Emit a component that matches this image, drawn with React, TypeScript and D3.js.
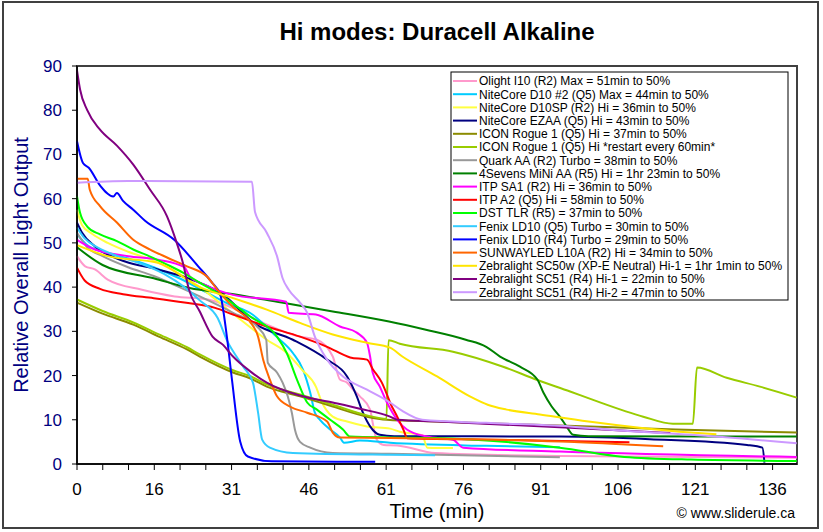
import React from "react";
import * as d3 from "d3";

type Pt = [number, number];

// time (min), relative light output
const olightI10: Pt[] = [[0,47],[1.6,44.7],[3.5,44],[6,41.7],[12.7,39.4],[19.1,37.9],[25.6,37.2],[30,35.5],[36.2,32],[43.6,28.8],[46.9,28.1],[50,24.3],[51.4,19.1],[52.8,18.4],[54,16.8],[55.3,15.3],[57.3,12.3],[57.8,9.4],[58.6,5.5],[60,4.3],[62.6,4.2],[70,2.5],[94.4,1.8],[140.7,1.4]];
const niteCoreD10: Pt[] = [[0,52],[2,49.5],[5,48],[10,46.5],[15,44.5],[20,42],[25,39],[30,36],[33.8,34.2],[39,28.8],[42.2,25.1],[44.2,21.3],[45.6,16.1],[46.5,11.6],[47.5,10],[49.5,7.8],[51.4,6],[52.2,4.8],[55.3,5.3],[61.2,4.8],[80,4.1],[94.4,3.8]];
const niteCoreD10SP: Pt[] = [[0,57.5],[1,54],[3,52],[6,50],[10,48],[15,46],[20,43],[24,40],[30.5,34],[37.1,28.1],[41,25.1],[44,21.3],[46.7,17.5],[47.9,13.9],[48.7,12.3],[50,10.7],[52.8,9.6],[56.7,8.5],[61.2,8],[63.1,7.3],[67.5,6.5],[68.5,3.7],[73.5,3.6]];
const niteCoreEZAA: Pt[] = [[0,54.6],[1,52.3],[3.5,49.2],[9.4,45.8],[15.8,44],[22.4,41.7],[28.7,38.2],[34.4,32],[42.2,28.1],[48.9,23.6],[52.8,19.8],[54.7,15.3],[55.9,11.6],[57.3,8.5],[59.2,6.6],[62,6.3],[94.4,6.2],[112,5.6],[131,4.3],[134,3.7],[134.4,0.3]];
const iconRogue: Pt[] = [[0,36.5],[5,34],[11,31.5],[16,28.8],[21.5,25.9],[24,24.3],[30.5,20.7],[33.8,19.4],[37.1,17.5],[43.6,15.3],[50,13],[56.7,10.7],[60.6,10],[70,9.6],[94.4,8.7],[117,7.8],[140.7,7.1]];
const iconRogueRestart: Pt[] = [[0,37.2],[5,34.6],[11,32],[16,29.3],[21.5,26.4],[24,24.8],[30.5,21.2],[33.8,19.9],[37.1,18],[43.6,15.7],[50,13.4],[56.7,11],[60.5,10.2],[60.9,28],[63.1,27.2],[73.5,25.4],[83.3,22],[90,19],[96.4,16.4],[100.9,14.5],[110.7,10.7],[116.5,9.1],[120.4,9.1],[121.2,21.8],[127,19.5],[133.5,17.5],[140.7,15]];
const quarkAA: Pt[] = [[0,52.3],[2,49],[5,47],[10,44.5],[15,42.5],[20,40],[24,37.9],[30.5,34.2],[35.2,31.1],[37,28.1],[37.3,22.9],[39.1,20.7],[40.2,18.4],[41.2,15.3],[42,11.6],[42.6,7.8],[43.6,5],[45.6,3.7],[50,2.5],[61.2,2.3],[94.4,1.5]];
const fourSevensMiNi: Pt[] = [[0,49],[5,45],[15,42],[22,39.8],[30,38.5],[40,36.5],[50,34.5],[61,32.2],[68,30.4],[76,28.1],[80,26.5],[82.7,24.3],[86.6,22],[90,19.1],[91.2,16.1],[92.8,13],[94.4,10.7],[95.7,8.5],[97,6.6],[100,6.3],[140.7,6.2]];
const itpSA1: Pt[] = [[0,50.7],[3.5,48.5],[10,47],[15.8,46.2],[21,44.5],[22,42.5],[25,40.5],[30.3,38.3],[40.9,36.7],[41.4,34.2],[46.7,33.8],[51.4,31.1],[54.7,29.7],[56.7,27.4],[57.3,24.3],[57.8,20.7],[59.2,17.5],[60.6,13.9],[62.6,10],[64.5,7.8],[68.4,6.2],[73.5,5.5],[75.5,3.7],[94.4,2.8],[140.7,1.6]];
const itpA2: Pt[] = [[0,44.4],[1.5,41.5],[4.5,39.6],[9,38.4],[15,37.5],[21,36.5],[27,35.3],[30.5,33.8],[37.1,31.1],[43.6,28.8],[48.9,26.5],[53.4,24.1],[56.7,23.6],[57.8,21.5],[59.6,18.4],[60.6,15.7],[61.2,13.9],[62.6,10.7],[63.8,7.8],[64.6,5.8],[80,5.5],[100,5.1],[108,4.9]];
const dstTLR: Pt[] = [[0,60.5],[0.6,56.8],[2,53.7],[4.5,51.9],[7.8,50.4],[11,48.5],[14.3,46.9],[17.6,45.1],[20.7,43.3],[24,41],[28,38.3],[33.8,33.4],[39.1,28.8],[41,25.1],[43,19.1],[45,13.9],[46.9,12.3],[49.5,10],[52,7.8],[53.4,6.2],[61,6],[70,5.9],[94.4,3.7],[107,1.6],[120,1],[140.7,0.7]];
const fenixLD10Q5: Pt[] = [[0,53.5],[1.5,51],[4,49],[8,47],[12,45.5],[17,43],[21,40],[24,37],[27.5,33],[29.3,28],[32.5,22],[34.4,18.4],[35.4,11.6],[36.2,5.5],[37.7,3.7],[42.2,2.5],[61,2.1],[70,2]];
const fenixLD10R4: Pt[] = [[0,73],[1.2,68],[2.3,67],[4.5,63],[7.1,60.5],[7.8,61.3],[9,59.5],[11,57.5],[13.3,55],[19,50.7],[23.7,44.7],[26.4,41],[28,38.3],[29.3,28.8],[30.3,19],[31.9,5.1],[33.4,1.7],[38.1,0.6],[58.3,0.5]];
const sunwayledL10A: Pt[] = [[0,64.5],[2.1,64.5],[2.5,62],[4.5,58.3],[7.8,54.6],[11,50.7],[14.3,48.5],[17.6,46.7],[21.5,44.7],[25.4,42.4],[27.4,39.5],[30.5,35.5],[33.8,32.2],[35.4,28.8],[36.4,23.6],[37.7,19.1],[39.1,15.3],[41.6,13],[45,11.6],[48.9,9.6],[50,7.1],[51.4,6],[61.2,5.9],[94.4,5.1],[114.6,4]];
const zebraSC50w: Pt[] = [[0,49.5],[6,47],[15.8,45.5],[24,40],[30.5,37.5],[37.1,34.9],[43.6,31.9],[50,29.3],[56.7,27.4],[61.2,26.3],[63.6,24.3],[70.4,19.8],[76.8,15.3],[80.3,13.4],[84,12.3],[90.5,11.2],[100,9.6],[110,8.2],[120,7.1],[125,6.7]];
const zebraSC51Hi1: Pt[] = [[0,89],[0.6,84.7],[2,80],[4.5,75.6],[7.8,72],[11,67.7],[14.3,62],[17.6,56],[19.5,50],[20.7,45.5],[21.9,39.4],[24,34.5],[26.5,28.8],[28.5,27],[30.5,24.3],[33.8,21],[37.1,18.4],[43.6,15.5],[50,13.9],[55.3,12.5],[61.2,10.7],[62.6,10],[70.4,9.6],[96.4,8.2],[116,7]];
const zebraSC51Hi2: Pt[] = [[0,63.6],[10,64],[34.2,63.8],[34.8,57],[37.1,52.3],[39.1,47],[40.2,42],[41.4,39.4],[43.6,36.5],[45,34.2],[46.5,28.8],[48.9,23.6],[52,19.8],[56.7,16.8],[61.2,13.9],[63.6,12],[67.5,10],[80,9.3],[96.4,8.5],[107,7.5],[120,6.6],[140.7,4.7]];

const seriesNames = [
  "Olight I10 (R2) Max = 51min to 50%",
  "NiteCore D10 #2 (Q5) Max = 44min to 50%",
  "NiteCore D10SP (R2) Hi = 36min to 50%",
  "NiteCore EZAA (Q5) Hi = 43min to 50%",
  "ICON Rogue 1 (Q5) Hi = 37min to 50%",
  "ICON Rogue 1 (Q5) Hi *restart every 60min*",
  "Quark AA (R2) Turbo = 38min to 50%",
  "4Sevens MiNi AA (R5) Hi = 1hr 23min to 50%",
  "ITP SA1 (R2) Hi = 36min to 50%",
  "ITP A2 (Q5) Hi = 58min to 50%",
  "DST TLR (R5) = 37min to 50%",
  "Fenix LD10 (Q5) Turbo = 30min to 50%",
  "Fenix LD10 (R4) Turbo = 29min to 50%",
  "SUNWAYLED L10A (R2) Hi = 34min to 50%",
  "Zebralight SC50w (XP-E Neutral) Hi-1 = 1hr 1min to 50%",
  "Zebralight SC51 (R4) Hi-1 = 22min to 50%",
  "Zebralight SC51 (R4) Hi-2 = 47min to 50%",
];
const seriesData = [olightI10, niteCoreD10, niteCoreD10SP, niteCoreEZAA, iconRogue, iconRogueRestart, quarkAA, fourSevensMiNi, itpSA1, itpA2, dstTLR, fenixLD10Q5, fenixLD10R4, sunwayledL10A, zebraSC50w, zebraSC51Hi1, zebraSC51Hi2];
const seriesColors = ["#FF99CC", "#00CCFF", "#FFFF40", "#000080", "#8B8B00", "#99CC00", "#999999", "#008000", "#FF00FF", "#FF0000", "#00FF00", "#33CCFF", "#0000FF", "#FF6600", "#FFE500", "#800080", "#CC99FF"];

const yTicks = [0, 10, 20, 30, 40, 50, 60, 70, 80, 90];
const xTickLabels = ["0", "16", "31", "46", "61", "76", "91", "106", "121", "136"];
const minutesPerLabel = 15.11;
const xMaxMinutes = 140.76;

const FONT = "'Liberation Sans', Arial, Helvetica, sans-serif";

export default function App() {
  const W = 823, H = 532;
  const L = 77, R = 797, T = 66, B = 464;
  const x = d3.scaleLinear().domain([0, xMaxMinutes]).range([L, R]);
  const y = d3.scaleLinear().domain([0, 90]).range([B, T]);
  const line = d3.line<Pt>().x(d => x(d[0])).y(d => y(d[1])).curve(d3.curveMonotoneX);
  const minor = d3.range(0, xTickLabels.length * 3).map(i => (i * minutesPerLabel) / 3).filter(v => v <= xMaxMinutes);

  const legX = 451, legY = 72, legW = 337, legH = 228, legStart = 81, legStep = 13.2;

  return (
    <svg width={W} height={H} style={{ position: "absolute", left: 0, top: 0, background: "#fff" }} fontFamily={FONT}>
      <rect x={0} y={0} width={W} height={H} fill="#fff" />
      <rect x={3} y={2} width={815} height={526} fill="#fff" stroke="#404040" strokeWidth={2} />
      <text x={(L + R) / 2} y={40} textAnchor="middle" fontSize={24} fontWeight="bold" fill="#000">Hi modes: Duracell Alkaline</text>

      <rect x={L} y={T} width={R - L} height={B - T} fill="#fff" stroke="#404040" strokeWidth={2} />
      <g>
        {seriesData.map((d, i) => (
          <path key={i} d={line(d) || ""} fill="none" stroke={seriesColors[i]} strokeWidth={2} strokeLinejoin="round" />
        ))}
      </g>

      {/* axes */}
      <line x1={L} x2={L} y1={T} y2={B} stroke="#000" strokeWidth={1.5} />
      <line x1={L} x2={R} y1={B} y2={B} stroke="#000" strokeWidth={1.5} />
      {yTicks.map(t => (
        <g key={t}>
          <line x1={L - 5} x2={L} y1={y(t)} y2={y(t)} stroke="#000" strokeWidth={1} />
          <text x={62} y={y(t)} dy="0.35em" textAnchor="end" fontSize={17} fill="#000080">{t}</text>
        </g>
      ))}
      {minor.map((m, i) => (
        <line key={i} x1={x(m)} x2={x(m)} y1={B} y2={B + 6} stroke="#000" strokeWidth={1} />
      ))}
      {xTickLabels.map((lab, i) => (
        <text key={lab} x={x(i * minutesPerLabel)} y={495} textAnchor="middle" fontSize={17} fill="#000">{lab}</text>
      ))}
      <text x={(L + R) / 2} y={518} textAnchor="middle" fontSize={20} fill="#000">Time (min)</text>
      <text transform={`translate(28,${(T + B) / 2}) rotate(-90)`} textAnchor="middle" fontSize={20} fill="#000080">Relative Overall Light Output</text>
      <text x={795} y={518} textAnchor="end" fontSize={14} fill="#000">© www.sliderule.ca</text>

      {/* legend */}
      <rect x={legX} y={legY} width={legW} height={legH} fill="#fff" stroke="#000" strokeWidth={1} />
      {seriesNames.map((n, i) => {
        const yy = legStart + i * legStep;
        return (
          <g key={n}>
            <line x1={453} x2={477} y1={yy} y2={yy} stroke={seriesColors[i]} strokeWidth={2} />
            <text x={479} y={yy} dy="0.36em" fontSize={12} fill="#000">{n}</text>
          </g>
        );
      })}
    </svg>
  );
}
